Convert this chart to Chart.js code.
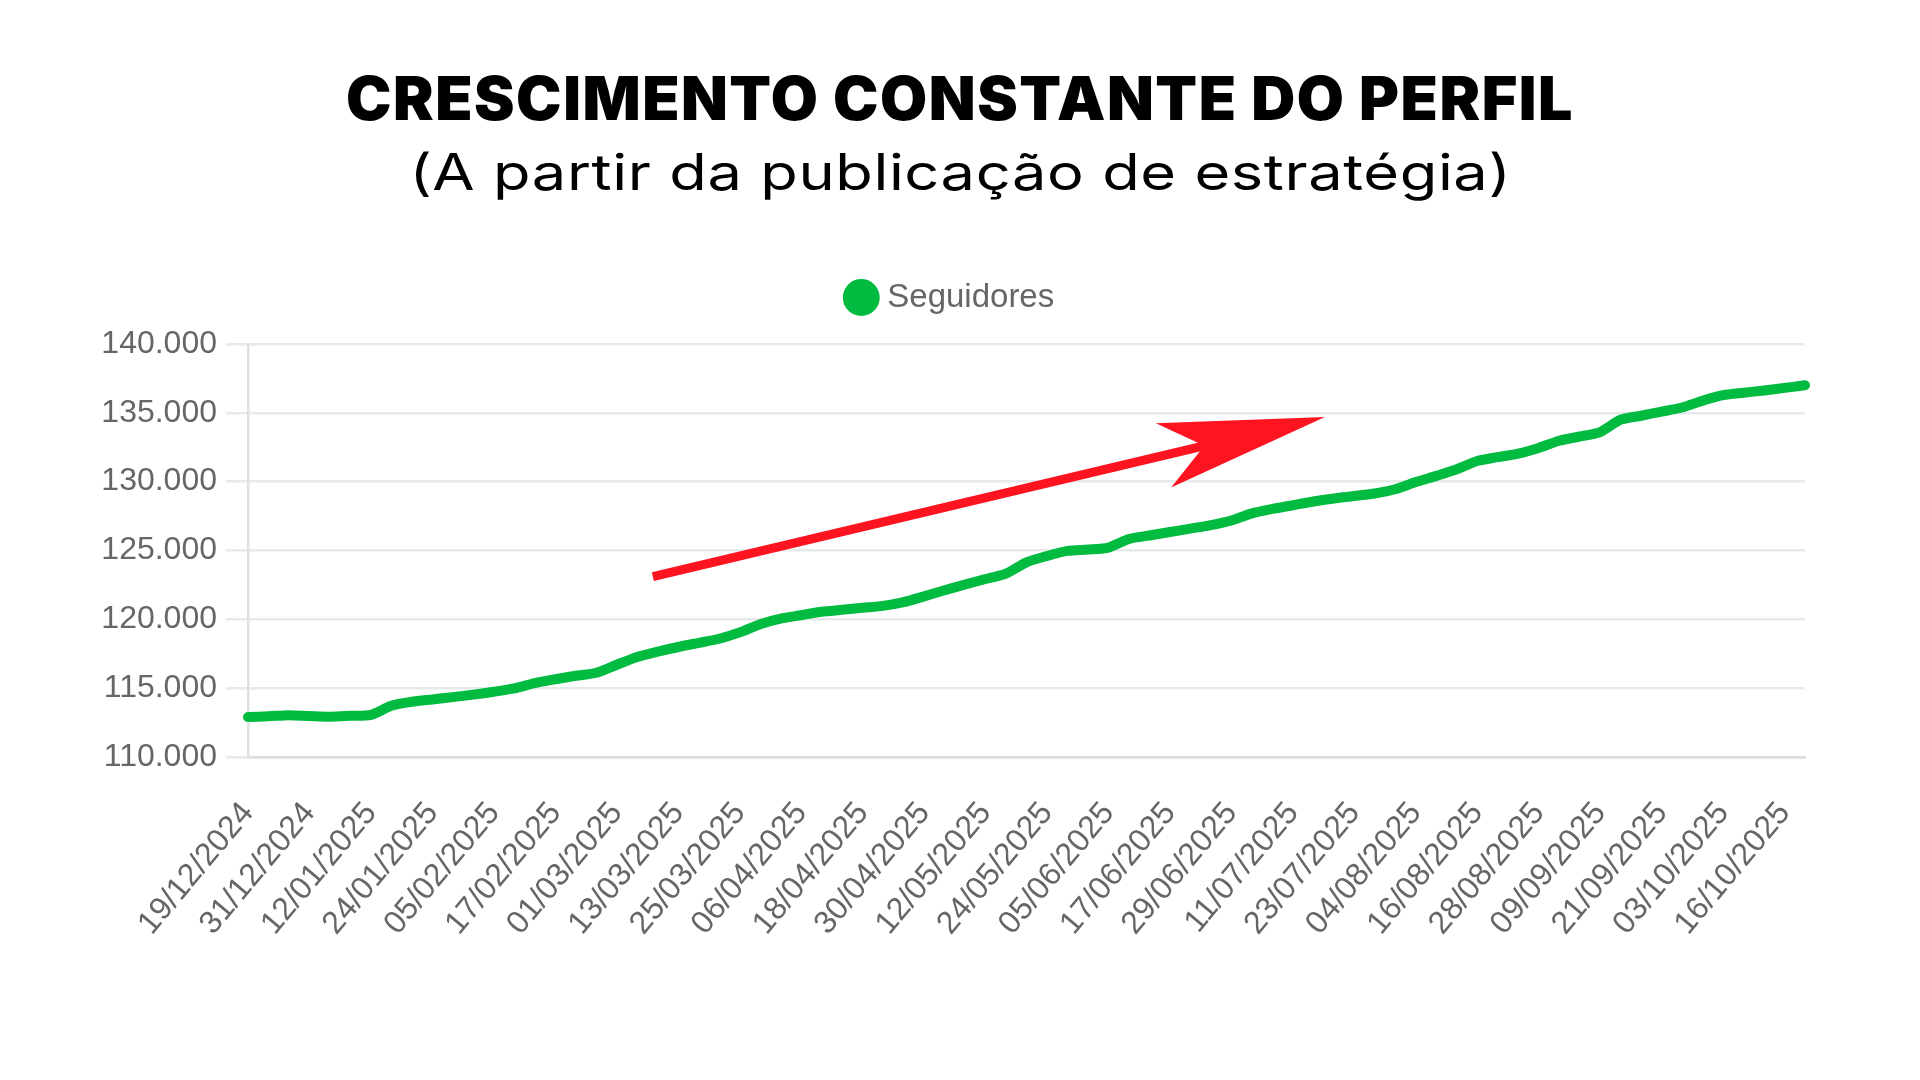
<!DOCTYPE html>
<html lang="pt-BR">
<head>
<meta charset="utf-8">
<title>Crescimento constante do perfil</title>
<script src="https://cdn.jsdelivr.net/npm/chart.js@4.4.1/dist/chart.umd.min.js"></script>
<style>
  html, body { margin: 0; padding: 0; background: #fff; }
  body { width: 1920px; height: 1080px; position: relative; overflow: hidden; }
  .title {
    position: absolute; left: 0; width: 1920px; text-align: center;
    font-family: Inter, "DejaVu Sans", sans-serif; color: #000; line-height: 1;
    white-space: nowrap;
  }
  .title span { display: inline-block; transform-origin: 50% 50%; }
  #t1 { top: 68px; font-size: 60px; font-weight: 900; letter-spacing: 1.5px; }
  #t2 { top: 147px; font-size: 50px; font-weight: 400; letter-spacing: 0.5px; }
  #chartWrap { position: absolute; left: 0; top: 250px; width: 1920px; height: 720px; }
</style>
</head>
<body>
<div class="title" id="t1"><span data-w="1228">CRESCIMENTO CONSTANTE DO PERFIL</span></div>
<div class="title" id="t2"><span data-w="1102">(A partir da publicação de estratégia)</span></div>
<div id="chartWrap"><canvas id="chart"></canvas></div>

<script>
// datas mostradas no eixo x (uma a cada 12 dias)
const tickDates = [
  '19/12/2024', '31/12/2024', '12/01/2025', '24/01/2025', '05/02/2025', '17/02/2025',
  '01/03/2025', '13/03/2025', '25/03/2025', '06/04/2025', '18/04/2025', '30/04/2025',
  '12/05/2025', '24/05/2025', '05/06/2025', '17/06/2025', '29/06/2025', '11/07/2025',
  '23/07/2025', '04/08/2025', '16/08/2025', '28/08/2025', '09/09/2025', '21/09/2025',
  '03/10/2025', '16/10/2025'
];

// seguidores, um ponto a cada 4 dias (3 pontos por data do eixo)
const seguidores = [
  112900, 112960, 113040, 112980, 112930, 112990, 113060, 113720, 114010, 114180,
  114350, 114530, 114740, 114990, 115370, 115650, 115900, 116120, 116700, 117260,
  117650, 117990, 118290, 118590, 119050, 119650, 120050, 120300, 120550, 120690,
  120840, 120980, 121250, 121670, 122110, 122530, 122930, 123320, 124140, 124600,
  124970, 125070, 125210, 125840, 126090, 126340, 126590, 126840, 127180, 127700,
  128020, 128290, 128560, 128780, 128960, 129140, 129450, 129970, 130420, 130900,
  131500, 131780, 132040, 132450, 132970, 133280, 133600, 134500, 134790, 135090,
  135390, 135880, 136280, 136460, 136620, 136810, 137000
];

const yTicks = { min: 110000, max: 140000, step: 5000 };

// seta vermelha: [índice do ponto, valor]
const arrowFrom = [19.76, 123100];
const arrowTo   = [52.57, 134690];

const GREEN = '#00bb3f';
const RED   = '#fe1421';
const GRID  = '#e6eaeb';

const labels = seguidores.map((v, i) => (i % 3 === 0 ? tickDates[i / 3] : ''));

function fmt(v) {
  return String(v).replace(/\B(?=(\d{3})+(?!\d))/g, '.');
}

/* ── ajusta a largura dos títulos ── */
document.querySelectorAll('.title span').forEach(el => {
  const target = Number(el.dataset.w);
  const w = el.getBoundingClientRect().width;
  if (w > 0) el.style.transform = 'scaleX(' + (target / w) + ')';
});

/* ── espaço extra abaixo da legenda ── */
const legendGap = {
  id: 'legendGap',
  beforeInit(chart) {
    const fit = chart.legend.fit;
    chart.legend.fit = function () {
      fit.bind(chart.legend)();
      this.height += 20;
    };
  }
};

/* ── seta de tendência ── */
const trendArrow = {
  id: 'trendArrow',
  afterDatasetsDraw(chart) {
    const { ctx, scales: { x, y } } = chart;
    const x0 = x.getPixelForValue(arrowFrom[0]), y0 = y.getPixelForValue(arrowFrom[1]);
    const x1 = x.getPixelForValue(arrowTo[0]),   y1 = y.getPixelForValue(arrowTo[1]);
    const len = Math.hypot(x1 - x0, y1 - y0);
    const ux = (x1 - x0) / len, uy = (y1 - y0) / len;
    const nx = -uy, ny = ux;
    const headLen = 166, headHalf = 33, notch = 124;
    const pt = (back, side) => [x1 - ux * back + nx * side, y1 - uy * back + ny * side];

    ctx.save();
    ctx.strokeStyle = RED;
    ctx.fillStyle = RED;
    ctx.lineWidth = 9;
    ctx.lineCap = 'butt';
    ctx.beginPath();
    ctx.moveTo(x0, y0);
    const n = pt(notch - 4, 0);
    ctx.lineTo(n[0], n[1]);
    ctx.stroke();

    ctx.beginPath();
    ctx.moveTo(x1, y1);
    let p = pt(headLen, -headHalf); ctx.lineTo(p[0], p[1]);
    p = pt(notch, 0);              ctx.lineTo(p[0], p[1]);
    p = pt(headLen, headHalf);     ctx.lineTo(p[0], p[1]);
    ctx.closePath();
    ctx.fill();
    ctx.restore();
  }
};

Chart.defaults.font.family = '"Liberation Sans", Arial, Helvetica, sans-serif';
Chart.defaults.color = '#666';

new Chart(document.getElementById('chart'), {
  type: 'line',
  data: {
    labels: labels,
    datasets: [{
      label: 'Seguidores',
      data: seguidores,
      borderColor: GREEN,
      backgroundColor: GREEN,
      pointBackgroundColor: GREEN,
      pointBorderColor: GREEN,
      borderWidth: 10,
      pointRadius: 0,
      pointHoverRadius: 0,
      tension: 0.25,
      fill: false,
      borderCapStyle: 'round',
      borderJoinStyle: 'round'
    }]
  },
  options: {
    responsive: true,
    maintainAspectRatio: false,
    animation: false,
    layout: { padding: { top: 21, right: 115, bottom: 0, left: 101 } },
    plugins: {
      legend: {
        display: true,
        position: 'top',
        labels: {
          usePointStyle: true,
          pointStyle: 'circle',
          boxWidth: 19,
          boxHeight: 19,
          padding: 10,
          color: '#666',
          font: { size: 33 }
        }
      },
      tooltip: { enabled: false }
    },
    scales: {
      x: {
        grid: { display: false, drawTicks: false },
        border: { display: true, color: '#d9dedf', width: 2.5 },
        ticks: {
          autoSkip: false,
          maxRotation: 50,
          minRotation: 50,
          padding: 38,
          color: '#666',
          font: { size: 32 }
        },
        afterFit(scale) { scale.height = 213; }
      },
      y: {
        min: yTicks.min,
        max: yTicks.max,
        grid: { color: GRID, lineWidth: 2.5, tickLength: 22 },
        border: { display: true, color: '#dde1e2', width: 2.5 },
        ticks: {
          stepSize: yTicks.step,
          padding: 9,
          color: '#666',
          font: { size: 32 },
          callback: (v) => fmt(v)
        },
        afterFit(scale) { scale.width = 147; }
      }
    }
  },
  plugins: [legendGap, trendArrow]
});
</script>
</body>
</html>
